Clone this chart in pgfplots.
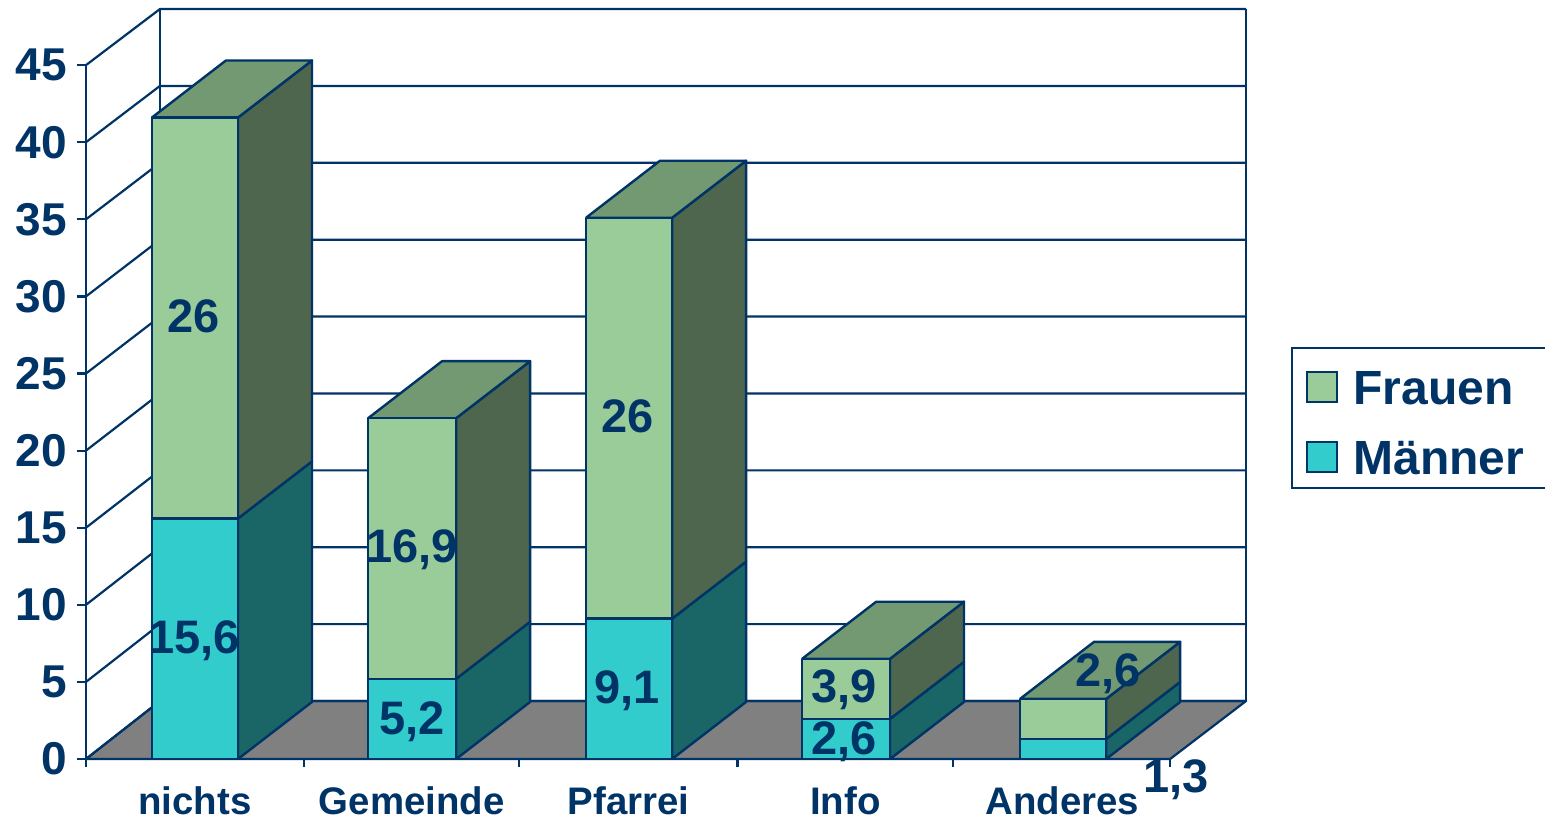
\documentclass[border=0pt]{standalone}
\usepackage{fontspec}
\setmainfont{Liberation Sans}
\usepackage{pgfplots}
\pgfplotsset{compat=1.18}
\definecolor{navy}{HTML}{003366}
\definecolor{mfront}{HTML}{33CCCC}
\definecolor{mside}{HTML}{1A6666}
\definecolor{ffront}{HTML}{99CC99}
\definecolor{fside}{HTML}{4D664D}
\definecolor{ftop}{HTML}{739973}
\definecolor{floorc}{HTML}{808080}
\def\dx{0.3413}
\def\dy{3.7}
% one stacked bar: left edge, right edge, Maenner, Frauen
\newcommand{\drawbar}[4]{%
  \pgfmathsetmacro{\xa}{#1}\pgfmathsetmacro{\xb}{#2}%
  \pgfmathsetmacro{\xc}{#2+\dx}\pgfmathsetmacro{\xd}{#1+\dx}%
  \pgfmathsetmacro{\ya}{#3}\pgfmathsetmacro{\yb}{#3+#4}%
  \pgfmathsetmacro{\yz}{\dy}\pgfmathsetmacro{\yaa}{#3+\dy}\pgfmathsetmacro{\ybb}{#3+#4+\dy}%
  \addplot[forget plot,fill=mside,draw=navy,line width=2.4pt,line join=round] coordinates {(\xb,0)(\xc,\yz)(\xc,\yaa)(\xb,\ya)(\xb,0)};
  \addplot[forget plot,fill=fside,draw=navy,line width=2.4pt,line join=round] coordinates {(\xb,\ya)(\xc,\yaa)(\xc,\ybb)(\xb,\yb)(\xb,\ya)};
  \addplot[forget plot,fill=ftop,draw=navy,line width=2.4pt,line join=round] coordinates {(\xa,\yb)(\xd,\ybb)(\xc,\ybb)(\xb,\yb)(\xa,\yb)};
  \addplot[forget plot,fill=mfront,draw=navy,line width=2.4pt,line join=round] coordinates {(\xa,0)(\xb,0)(\xb,\ya)(\xa,\ya)(\xa,0)};
  \addplot[forget plot,fill=ffront,draw=navy,line width=2.4pt,line join=round] coordinates {(\xa,\ya)(\xb,\ya)(\xb,\yb)(\xa,\yb)(\xa,\ya)};
}
\begin{document}
\begin{tikzpicture}
\useasboundingbox (0,0) rectangle (1545pt,819pt);
\begin{axis}[
  at={(86pt,60pt)}, anchor=south west,
  scale only axis, width=1160pt, height=750pt,
  xmin=0, xmax=5.35, ymin=0, ymax=48.64,
  clip=false,
  axis x line=bottom, axis y line=left,
  axis line style={draw=none},
  tick align=outside,
  tick style={navy,line width=2.2pt},
  major tick length=9pt, minor tick length=8pt,
  major x tick style={draw=none},
  ytick={0,5,...,45},
  xtick={0.5,1.5,2.5,3.5,4.5},
  xticklabels={nichts,Gemeinde,Pfarrei,Info,Anderes},
  minor xtick={0,1.005,1.996,3.005,3.998,5},
  /pgf/number format/assume math mode=true,
  y tick label style={font=\fontsize{46}{50}\selectfont\bfseries,text=navy,inner sep=0pt,anchor=east,xshift=-10pt},
  x tick label style={font=\fontsize{38.4}{42}\selectfont\bfseries,text=navy,inner sep=0pt,anchor=base,yshift=-46pt,xshift=0.5pt},
  legend style={
    at={(axis cs:5.558,26.71)}, anchor=north west,
    draw=navy, line width=2.2pt, fill=white,
    inner xsep=14pt, inner ysep=0pt,
    row sep=0pt,
    font=\fontsize{48}{50}\selectfont\bfseries,
    text=navy,
    nodes={inner sep=0pt,text height=56pt,text depth=14pt,text width=230pt,align=left},
  },
  legend cell align=left,
  legend image code/.code={\draw[#1,line width=2.2pt] (0pt,-18.5pt) rectangle (30pt,11.5pt);\path (45pt,0pt);},
]
\addlegendimage{fill=ffront,draw=navy}
\addlegendimage{fill=mfront,draw=navy}
\legend{Frauen,Männer}

% floor
\addplot[forget plot,fill=floorc,draw=navy,line width=2.2pt,line join=round] coordinates {(0,0)(5,0)(5.35,3.76)(0.3413,3.76)(0,0)};
% walls
\pgfplotsinvokeforeach{0,5,10,15,20,25,30,35,40,45}{%
  \pgfmathsetmacro{\gy}{#1*0.9973+3.76}%
  \addplot[forget plot,draw=navy,line width=2.2pt] coordinates {(0,#1)(0.3413,\gy)(5.35,\gy)};
}
\addplot[forget plot,draw=navy,line width=2.2pt] coordinates {(0,0)(0,45)};
\addplot[forget plot,draw=navy,line width=2.2pt] coordinates {(0.3413,3.76)(0.3413,48.64)};
\addplot[forget plot,draw=navy,line width=2.2pt] coordinates {(5.35,3.76)(5.35,48.64)};

\drawbar{0.304}{0.701}{15.6}{26}
\drawbar{1.301}{1.707}{5.2}{16.9}
\drawbar{2.306}{2.703}{9.1}{26}
\drawbar{3.303}{3.708}{2.6}{3.9}
\drawbar{4.308}{4.705}{1.3}{2.6}

% data labels
\addplot[forget plot,draw=none,mark=none,
  nodes near coords, point meta=explicit symbolic,
  nodes near coords style={anchor=center,inner sep=0pt,text=navy,text height=33pt,text depth=0pt,
    font=\fontsize{47}{50}\selectfont\bfseries},
] table[meta=l] {
x y l
0.498 7.92 15,6
0.498 28.72 26
1.504 2.66 5,2
1.504 13.83 16,9
2.495 4.68 9,1
2.498 22.27 26
3.496 1.36 2,6
3.496 4.74 3,9
5.028 -1.10 1,3
4.714 5.78 2,6
};
\end{axis}
\end{tikzpicture}
\end{document}
